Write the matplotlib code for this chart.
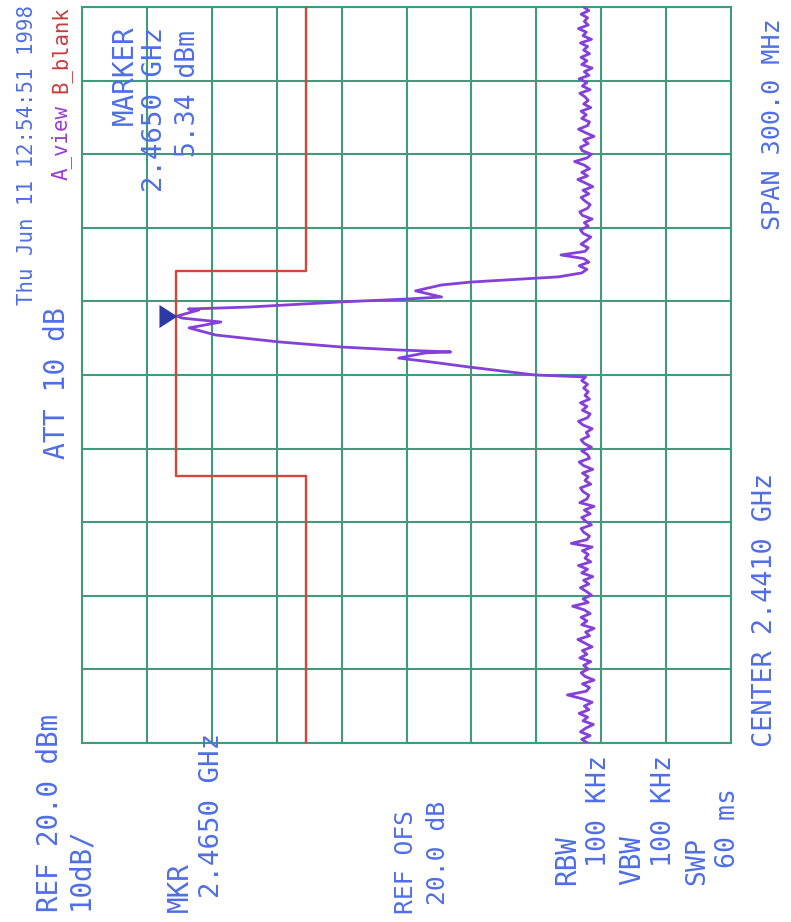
"""Spectrum analyzer plot (2.4 GHz carrier with mask), drawn rotated like the printout."""

import numpy as np
import matplotlib.pyplot as plt

# instrument settings
ref_level = 20.0          # dBm at the left edge
db_per_div = 10.0
center_ghz = 2.4410
span_ghz = 0.300
n_div = 10

marker_freq = 2.4650
marker_level = 5.34

# limit line, steps at the ISM band edges
mask_freq = [2.291, 2.400, 2.400, 2.4835, 2.4835, 2.591]
mask_level = [-14.5, -14.5, 5.5, 5.5, -14.5, -14.5]

# noise floor below the carrier (2.291 -> 2.4402 GHz)
noise_low = [
    -57.9, -57.0, -58.3, -56.8, -57.6, -58.8, -57.2, -57.9, -56.6, -58.1,
    -57.4, -58.6, -57.0, -54.8, -57.7, -58.2, -57.1, -58.9, -57.5, -56.9,
    -58.0, -57.3, -58.4, -56.7, -57.8, -57.1, -58.6, -57.5, -56.4, -58.2,
    -57.6, -58.9, -57.0, -57.8, -56.9, -58.3, -57.4, -55.6, -58.0, -57.2,
    -58.5, -57.7, -56.8, -58.1, -57.3, -58.7, -57.0, -57.9, -56.5, -58.4,
    -57.5, -58.0, -57.1, -58.6, -55.4, -57.8, -58.2, -57.3, -56.9, -58.5,
    -57.6, -57.0, -58.3, -57.4, -58.9, -56.7, -57.8, -58.1, -57.2, -56.8,
    -58.4, -57.5, -58.0, -57.1, -58.7, -57.3, -56.6, -58.2, -57.9, -57.0,
    -58.5, -57.4, -56.9, -58.1, -57.7, -58.6, -57.2, -56.5, -57.9, -58.3,
    -57.1, -57.8, -56.8, -58.2, -57.5, -58.0, -57.3, -57.9, -57.0, -57.6,
]

# carrier
sig_freq = [2.4410, 2.4443, 2.4463, 2.4479, 2.4500, 2.4504, 2.4512, 2.4524,
            2.4545, 2.4573, 2.4602, 2.4626, 2.4642, 2.4650, 2.4675, 2.4679,
            2.4687, 2.4708, 2.4720, 2.4728, 2.4753, 2.4777, 2.4789, 2.4810]
sig_level = [-49.8, -39.5, -33.8, -28.8, -32.9, -36.8, -28.8, -20.0,
             -10.3, -0.6, 3.5, -1.4, 4.6, 5.34, 2.0, 3.6,
             -5.7, -20.0, -30.3, -35.4, -31.4, -35.4, -40.0, -53.4]

# noise floor above the carrier (2.4826 -> 2.591 GHz)
noise_high = [
    -57.0, -57.8, -56.6, -58.1, -57.3, -53.8, -57.5, -58.0, -56.9, -57.7,
    -58.4, -57.2, -56.8, -58.0, -57.4, -58.6, -57.1, -56.7, -57.9, -58.3,
    -57.5, -56.9, -58.1, -57.2, -58.7, -57.6, -56.4, -57.9, -57.0, -58.2,
    -57.4, -55.9, -57.8, -58.5, -57.1, -56.8, -58.0, -57.3, -58.9, -57.6,
    -56.5, -57.9, -58.2, -57.0, -57.7, -56.9, -58.4, -57.3, -58.0, -57.5,
    -56.7, -58.3, -57.1, -57.8, -56.6, -58.1, -57.4, -58.6, -57.0, -57.8,
    -56.9, -58.2, -57.3, -57.9, -56.8, -58.5, -57.2, -57.7, -56.5, -58.0,
    -57.4, -57.9, -56.9, -58.1, -57.3,
]

GRID = "#3e9c7c"
TRACE = "#8440d8"
MASK = "#d2463c"
TEXT = "#4f6ee6"
W, H = 791, 922


def put(txt, x, y, length, color=TEXT, ha="left"):
    """Rotated label: x = column centre, y = start (or end), length in pixels."""
    t = fig.text(x / W, 1 - y / H, txt, rotation=90, rotation_mode="anchor",
                 ha=ha, va="center", fontsize=20, color=color,
                 family="DejaVu Sans Mono")
    bb = t.get_window_extent(renderer)
    t.set_fontsize(20 * length / bb.height)
    return t


fig = plt.figure(figsize=(W / 100, H / 100), dpi=100)
renderer = fig.canvas.get_renderer()
ax = fig.add_axes([82 / W, 1 - 743 / H, 649 / W, 736 / H])

f_lo = center_ghz - span_ghz / 2
f_hi = center_ghz + span_ghz / 2
bottom = ref_level - n_div * db_per_div

freq = np.concatenate([np.linspace(f_lo, 2.4402, len(noise_low)),
                       sig_freq,
                       np.linspace(2.4826, f_hi, len(noise_high))])
level = np.concatenate([noise_low, sig_level, noise_high])

ax.plot(mask_level, mask_freq, color=MASK, lw=1.7, zorder=3)
ax.plot(level, freq, color=TRACE, lw=2.0, zorder=4)
ax.plot(marker_level, marker_freq, linestyle="none", zorder=5,
        marker=[(0, 0), (-18, 11.5), (-18, -11.5), (0, 0)],
        markersize=26, color="#2c3aa6", markeredgewidth=0)

ax.set_xlim(ref_level, bottom)
ax.set_ylim(f_lo, f_hi)
ax.set_xticks(np.linspace(ref_level, bottom, n_div + 1))
ax.set_yticks(np.linspace(f_lo, f_hi, n_div + 1))
ax.grid(True, color=GRID, lw=1.5)
ax.tick_params(length=0, labelbottom=False, labelleft=False)
for s in ax.spines.values():
    s.set_color(GRID)
    s.set_linewidth(1.5)

# header
put("Thu Jun 11 12:54:51 1998", 27, 305, 300)
put("A_view", 61, 180, 75, color="#9a3ed0")
put("B_blank", 61, 93, 87, color="#c83c3c")
put("ATT 10 dB", 57, 459, 152)
put("MARKER", 125, 25, 100, ha="right")
put("2.4650 GHz", 155, 27, 165, ha="right")
put("5.34 dBm", 188, 30, 127, ha="right")

# footer
put("REF 20.0 dBm", 50, 912, 199)
put("10dB/", 80, 910, 83)
put("MKR", 180, 912, 50)
put("2.4650 GHz", 212, 898, 165)
put("REF OFS", 406, 914, 104)
put("20.0 dB", 438, 905, 104)
put("RBW", 567, 885, 50)
put("100 KHz", 599, 867, 112)
put("VBW", 632, 885, 50)
put("100 KHz", 664, 867, 112)
put("SWP", 697, 885, 48)
put("60 ms", 728, 868, 80)
put("CENTER 2.4410 GHz", 765, 747, 275)
put("SPAN 300.0 MHz", 773, 230, 212)

fig.savefig("out.png", dpi=100)
